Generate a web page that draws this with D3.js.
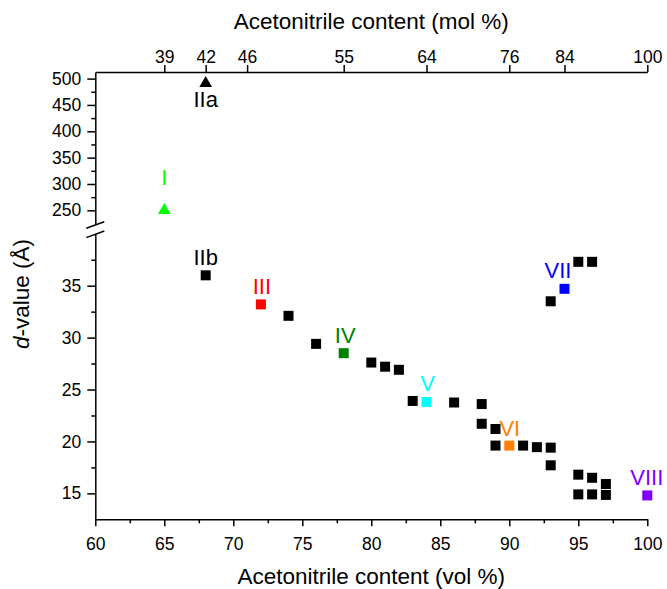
<!DOCTYPE html>
<html>
<head>
<meta charset="utf-8">
<script src="https://cdn.jsdelivr.net/npm/d3@7"></script>
<style>
  html, body { margin: 0; padding: 0; background: #fff; }
  svg { display: block; font-family: "Liberation Sans", Arial, sans-serif; }
</style>
</head>
<body>
<svg id="chart" width="667" height="589"></svg>
<script>
// ---------------- data ----------------
// unlabelled black squares: acetonitrile vol %, d-value (Å)
const volBlack = [74, 76, 80, 81, 82, 83, 86, 88, 88, 89, 89, 91, 92, 93, 93, 93, 95, 96, 95, 96, 97, 95, 96, 97];
const dBlack   = [32.1, 29.4, 27.6, 27.2, 26.9, 23.9, 23.75, 23.6, 21.7, 21.2, 19.6, 19.6, 19.45, 19.4, 17.7, 33.5, 37.3, 37.3, 16.8, 16.5, 15.9, 14.9, 14.9, 14.85];

// labelled phases
const phaseNames = ["I", "IIa", "IIb", "III", "IV", "V", "VI", "VII", "VIII"];
const phaseVol   = [65, 68, 68, 72, 78, 84, 90, 94, 100];
const phaseD     = [250, 491, 36.0, 33.2, 28.5, 23.8, 19.6, 34.7, 14.8];
const phaseShape = ["triangle", "triangle", "square", "square", "square", "square", "square", "square", "square"];

// axis ticks
const xMajorTicks = [60, 65, 70, 75, 80, 85, 90, 95, 100];
const xMinorTicks = [62.5, 67.5, 72.5, 77.5, 82.5, 87.5, 92.5, 97.5];
const molTickVol    = [65, 68, 71, 78, 84, 90, 94, 100];
const molTickLabels = ["39", "42", "46", "55", "64", "76", "84", "100"];
const yUpMajor = [250, 300, 350, 400, 450, 500];
const yUpMinor = [275, 325, 375, 425, 475];
const yLoMajor = [15, 20, 25, 30, 35];
const yLoMinor = [17.5, 22.5, 27.5, 32.5, 37.5];

// ---------------- styles / layout ----------------
const phaseColor = ["#00ff00", "#000000", "#000000", "#ff0000", "#008000", "#00ffff", "#ff8000", "#0000ff", "#8000ff"];
const labelOffset = [[0, -25], [0, 23.5], [0, -10], [1, -10.5], [1.5, -10], [1, -10.5], [0.5, -10], [-6.5, -10.4], [-0.5, -10.3]];

const svg = d3.select("#chart");
svg.append("rect").attr("width", 667).attr("height", 589).attr("fill", "#fff");

const x = d3.scaleLinear().domain([60, 100]).range([95.3, 647.3]);
const yUp = d3.scaleLinear().domain([225, 512.5]).range([223.5, 72]);
const yLo = d3.scaleLinear().domain([12.5, 40]).range([519.3, 233.8]);
const yPos = d => d > 100 ? yUp(d) : yLo(d);

const tickFont = "17.5px";
const axisStroke = 1.5;

function styleAxis(g) {
  g.selectAll("path.domain").attr("stroke", "#000").attr("stroke-width", axisStroke);
  g.selectAll(".tick line").attr("stroke", "#000").attr("stroke-width", axisStroke);
  g.selectAll(".tick text").attr("fill", "#000").style("font-size", tickFont)
    .style("font-family", '"Liberation Sans", Arial, sans-serif');
}

// bottom axis
const gBot = svg.append("g").attr("transform", `translate(0,${yLo(12.5)})`)
  .call(d3.axisBottom(x).tickValues(xMajorTicks).tickFormat(d3.format("d"))
    .tickSize(7).tickSizeOuter(0).tickPadding(11));
styleAxis(gBot);
const gBotMin = svg.append("g").attr("transform", `translate(0,${yLo(12.5)})`)
  .call(d3.axisBottom(x).tickValues(xMinorTicks).tickFormat("").tickSize(4).tickSizeOuter(0));
styleAxis(gBotMin);
gBotMin.select("path.domain").remove();

// top axis (mol %)
const gTop = svg.append("g").attr("transform", `translate(0,${yUp(512.5)})`)
  .call(d3.axisTop(x).tickValues(molTickVol).tickFormat((d, i) => molTickLabels[i])
    .tickSize(7).tickSizeOuter(0).tickPadding(2));
styleAxis(gTop);

// left axis - upper segment
const gUp = svg.append("g").attr("transform", `translate(${x(60)},0)`)
  .call(d3.axisLeft(yUp).tickValues(yUpMajor).tickFormat(d3.format("d"))
    .tickSize(8).tickSizeOuter(0).tickPadding(6));
styleAxis(gUp);
const gUpMin = svg.append("g").attr("transform", `translate(${x(60)},0)`)
  .call(d3.axisLeft(yUp).tickValues(yUpMinor).tickFormat("").tickSize(4).tickSizeOuter(0));
styleAxis(gUpMin);
gUpMin.select("path.domain").remove();

// left axis - lower segment
const gLo = svg.append("g").attr("transform", `translate(${x(60)},0)`)
  .call(d3.axisLeft(yLo).tickValues(yLoMajor).tickFormat(d3.format("d"))
    .tickSize(8).tickSizeOuter(0).tickPadding(6));
styleAxis(gLo);
const gLoMin = svg.append("g").attr("transform", `translate(${x(60)},0)`)
  .call(d3.axisLeft(yLo).tickValues(yLoMinor).tickFormat("").tickSize(4).tickSizeOuter(0));
styleAxis(gLoMin);
gLoMin.select("path.domain").remove();

// axis break marks
const bx = x(60);
[[yUp(225) + 1.5], [yLo(40) + 0.5]].forEach(([yy]) => {
  svg.append("line")
    .attr("x1", bx - 9).attr("y1", yy + 3.3)
    .attr("x2", bx + 9).attr("y2", yy - 3.3)
    .attr("stroke", "#000").attr("stroke-width", axisStroke);
});

// axis titles
const titleFont = "22.5px";
svg.append("text").attr("x", (x(60) + x(100)) / 2).attr("y", 584)
  .attr("text-anchor", "middle").style("font-size", titleFont)
  .text("Acetonitrile content (vol %)");
svg.append("text").attr("x", (x(60) + x(100)) / 2).attr("y", 29.3)
  .attr("text-anchor", "middle").style("font-size", titleFont)
  .text("Acetonitrile content (mol %)");
const yt = svg.append("text").attr("transform", "translate(29,294) rotate(-90)")
  .attr("text-anchor", "middle").style("font-size", titleFont);
yt.append("tspan").style("font-style", "italic").text("d");
yt.append("tspan").text("-value (Å)");

// points
const sq = d3.symbol(d3.symbolSquare).size(100);
const tri = d3.symbol(d3.symbolTriangle).size(70);

svg.append("g").selectAll("path.black")
  .data(volBlack.map((v, i) => ({ v, d: dBlack[i] })))
  .join("path")
  .attr("class", "black")
  .attr("d", sq)
  .attr("transform", p => `translate(${x(p.v)},${yPos(p.d)})`)
  .attr("fill", "#000");

const phases = phaseNames.map((n, i) => ({ n, v: phaseVol[i], d: phaseD[i], s: phaseShape[i], c: phaseColor[i], o: labelOffset[i] }));

svg.append("g").selectAll("path.phase")
  .data(phases)
  .join("path")
  .attr("class", "phase")
  .attr("d", p => p.s === "triangle" ? tri() : sq())
  .attr("transform", p => `translate(${x(p.v)},${yPos(p.d)})`)
  .attr("fill", p => p.c);

svg.append("g").selectAll("text.lab")
  .data(phases)
  .join("text")
  .attr("class", "lab")
  .attr("x", p => x(p.v) + p.o[0])
  .attr("y", p => yPos(p.d) + p.o[1])
  .attr("text-anchor", "middle")
  .style("font-size", "22px")
  .attr("fill", p => p.c)
  .text(p => p.n);
</script>
</body>
</html>
